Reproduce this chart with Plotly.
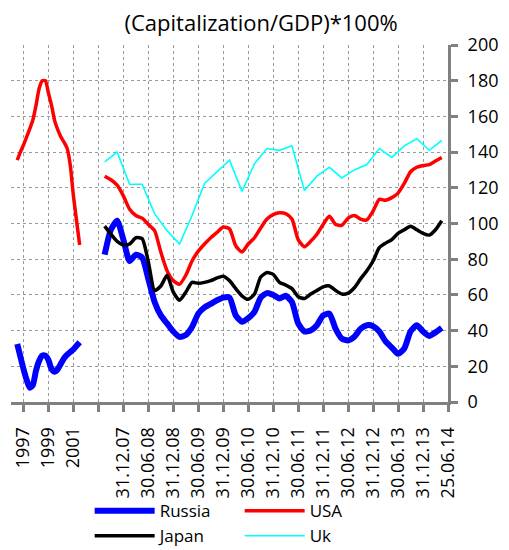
import plotly.graph_objects as go

# Primer tramo: 1997-2001 (años decimales, cada trimestre)
anios_1 = [1996.5 + 0.25 * i for i in range(21)]
russia_1 = [32.5, 25.5, 18.5, 12.5, 8, 9.5, 17.5, 23, 26, 26, 23.5, 18.5, 17, 18.5, 21.5, 24.5, 26.5, 28, 29.5, 31.5, 33.5]
usa_1 = [135.5, 140, 144, 148.5, 153, 158, 166, 175.5, 180, 180, 173, 166, 157.5, 152.5, 148.5, 145.5, 142, 132.5, 115.5, 101.5, 88]

# Segundo tramo: 2007-2014 (cada 1.5 meses)
anios_2 = [2007.625 + 0.125 * i for i in range(55)]
russia_2 = [82.5, 96.5, 101.5, 91, 79, 82.5, 81, 69, 56, 48.5, 44, 39.5, 36.5, 37.5, 42, 49.5, 53, 55, 57, 58.5, 58.5,
            48.5, 45, 47, 50.5, 58.5, 61, 60, 58, 59.5, 56, 44, 39.5, 40, 43, 48.5, 49.5, 41, 35.5, 34.5, 36.5, 41,
            43, 42.5, 39.5, 34, 30.5, 27, 30, 39.5, 43, 39.5, 37, 39, 41.5]
usa_2 = [126.5, 124.5, 121.5, 115.5, 108, 104.5, 103, 99.5, 96, 84, 73.5, 68, 66, 71, 79, 84.5, 88.5, 92, 95, 98, 97,
         87.5, 84, 88.5, 92, 97.5, 102.5, 105, 106, 105.5, 102.5, 91, 87, 90, 94, 99.5, 104, 99.5, 99, 103, 104.5, 102.5,
         102, 107, 113.5, 113, 114.5, 117, 122.5, 129, 131.5, 132.5, 133, 135, 137]
japan_2 = [98.5, 94, 90, 88, 88.5, 92, 91.5, 78.5, 62.5, 65, 71, 61.5, 57, 61.5, 67, 66.5, 67, 68, 69.5, 70.5, 68, 63.5,
           59.5, 57.5, 60.5, 70, 72.5, 71.5, 67, 65.5, 63.5, 59, 58, 60.5, 62.5, 64.5, 65, 62.5, 60.5, 61, 64, 69, 73.5,
           79, 86.5, 89, 91, 94.5, 96.5, 98.5, 96.5, 94.5, 93.5, 96.5, 101.5]
anios_uk = [2007.625 + 0.25 * i for i in range(28)]
uk_2 = [134.5, 140, 122, 122, 105.5, 96, 88.5, 104.5, 122.5, 129, 135.5, 118, 133.5, 142, 141, 143.5, 118.5, 126.5,
        131.5, 125.5, 130, 133, 142, 137, 143.5, 147.5, 141, 146.5]

etiquetas = ['1997', '1999', '2001', '', '31.12.07', '30.06.08', '31.12.08', '30.06.09', '31.12.09', '30.06.10',
             '31.12.10', '30.06.11', '31.12.11', '30.06.12', '31.12.12', '30.06.13', '31.12.13', '25.06.14']


def pos_1(a):
    # un tick = 2 años
    return [(x - 1997) / 2 for x in a]


def pos_2(a):
    # un tick = medio año, 31.12.07 en el tick 4
    return [4 + (x - 2008) * 2 for x in a]


fuente = "Open Sans"
fig = go.Figure()

fig.add_trace(go.Scatter(x=pos_2(anios_2), y=russia_2, name="Russia", legendgroup="ru", mode="lines",
                         line=dict(color="#0000ff", width=6, shape="spline", smoothing=0.6)))
fig.add_trace(go.Scatter(x=pos_1(anios_1), y=russia_1, name="Russia", legendgroup="ru", showlegend=False,
                         mode="lines", line=dict(color="#0000ff", width=6, shape="spline", smoothing=0.6)))
fig.add_trace(go.Scatter(x=pos_2(anios_2), y=usa_2, name="USA", legendgroup="us", mode="lines",
                         line=dict(color="#ff0000", width=3.5, shape="spline", smoothing=0.6)))
fig.add_trace(go.Scatter(x=pos_1(anios_1), y=usa_1, name="USA", legendgroup="us", showlegend=False,
                         mode="lines", line=dict(color="#ff0000", width=3.5, shape="spline", smoothing=0.6)))
fig.add_trace(go.Scatter(x=pos_2(anios_2), y=japan_2, name="Japan", mode="lines",
                         line=dict(color="#000000", width=3.5, shape="spline", smoothing=0.6)))
fig.add_trace(go.Scatter(x=pos_2(anios_uk), y=uk_2, name="Uk", mode="lines",
                         line=dict(color="#00ffff", width=1.6)))

fig.update_layout(
    width=509, height=550,
    margin=dict(l=11, r=61, t=45, b=148, autoexpand=False),
    paper_bgcolor="white", plot_bgcolor="white",
    font=dict(family=fuente, size=18, color="black"),
    title=dict(text="(Capitalization/GDP)*100%", x=0.513, xanchor="center", y=0.957, yanchor="middle",
               font=dict(family=fuente, size=22, color="black")),
    legend=dict(orientation="h", x=0.18, xanchor="left", y=-0.426, yanchor="bottom", bgcolor="rgba(0,0,0,0)",
                itemwidth=60, entrywidth=75, font=dict(size=17), tracegroupgap=0),
    showlegend=True,
)

fig.update_xaxes(range=[-0.5, 17], tickmode="array", tickvals=list(range(len(etiquetas))), ticktext=etiquetas,
                 tickangle=-90, showline=True, linecolor="#808080", linewidth=3, ticks="outside", ticklen=7,
                 tickwidth=3, tickcolor="#808080", showgrid=True, gridcolor="#9a9a9a", griddash="dot",
                 gridwidth=1, zeroline=False, tickfont=dict(size=18), automargin=False, ticklabelstandoff=8)
fig.update_yaxes(range=[0, 200], dtick=20, side="right", showline=True, linecolor="#808080", linewidth=3,
                 ticks="outside", ticklen=7, tickwidth=3, tickcolor="#808080", showgrid=True,
                 gridcolor="#9a9a9a", griddash="dot", gridwidth=1, zeroline=False, tickfont=dict(size=18),
                 automargin=False, ticklabelstandoff=6)

# sin el margen de 8px del body y sin barra de herramientas
fig.write_html("out.html", config={"displayModeBar": False},
               post_script="document.body.style.margin = '0';")
